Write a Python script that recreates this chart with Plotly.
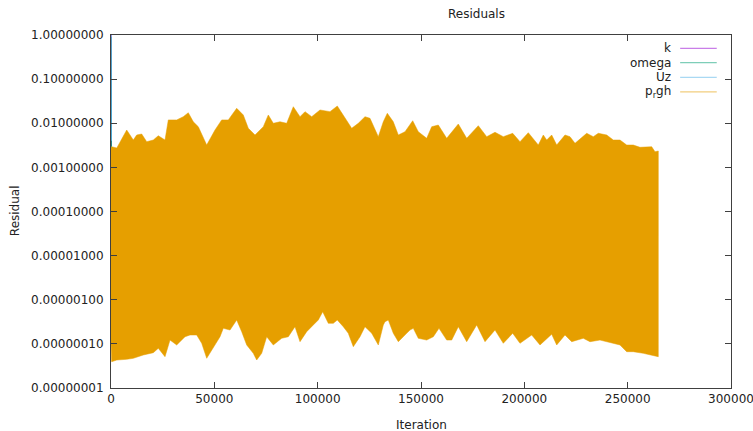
import math
import plotly.graph_objects as go

# ---- data ----
upper_iter = [0, 300, 2800, 7600, 10790, 12435, 14855, 17274, 20468, 22887, 26129, 27726, 31790,
              34984, 37403, 39823, 42242, 46306, 50323, 53565, 56758, 60823, 64016, 66435, 69677,
              73694, 76113, 78532, 81774, 85016, 88210, 91452, 93871, 97113, 101129, 105968, 109500,
              113226, 116468, 119661, 122903, 125323, 129339, 131758, 133694, 136597, 139016, 142258,
              145984, 148694, 152758, 155177, 158371, 162435, 168048, 172113, 177726, 181790, 185806,
              189823, 194371, 197903, 201919, 206758, 209177, 210823, 213242, 215661, 219677, 222097,
              224516, 230177, 233371, 235790, 239855, 243048, 246290, 249532, 252726, 255968, 259210,
              261629, 263226, 264823]
upper_res = [2.6e-3, 2.94e-3, 2.75e-3, 7.03e-3, 4.17e-3, 5.42e-3, 5.71e-3, 3.82e-3, 4.17e-3, 5.22e-3,
             4.17e-3, 1.19e-2, 1.19e-2, 1.41e-2, 1.73e-2, 1.08e-2, 8.35e-3, 3.21e-3, 7.03e-3, 1.19e-2,
             1.19e-2, 2.18e-2, 1.54e-2, 7.69e-3, 5.42e-3, 8.35e-3, 1.54e-2, 9.97e-3, 1.08e-2, 9.97e-3,
             2.37e-2, 1.41e-2, 1.83e-2, 1.41e-2, 2.00e-2, 1.83e-2, 2.46e-2, 1.29e-2, 7.69e-3, 9.97e-3,
             1.41e-2, 1.29e-2, 4.96e-3, 1.08e-2, 1.68e-2, 1.08e-2, 5.42e-3, 6.43e-3, 1.14e-2, 6.43e-3,
             4.56e-3, 8.35e-3, 9.12e-3, 4.56e-3, 9.62e-3, 4.56e-3, 8.80e-3, 4.96e-3, 6.24e-3, 4.96e-3,
             5.92e-3, 3.82e-3, 6.11e-3, 3.21e-3, 5.42e-3, 4.17e-3, 5.42e-3, 3.21e-3, 5.42e-3, 4.96e-3,
             3.51e-3, 5.92e-3, 4.96e-3, 5.92e-3, 5.42e-3, 4.17e-3, 4.17e-3, 3.21e-3, 3.21e-3, 2.85e-3,
             2.85e-3, 2.94e-3, 2.26e-3, 2.35e-3]

lower_iter = [0, 300, 2800, 7600, 10800, 15630, 20470, 22890, 26130, 28550, 31790, 35810, 38230,
              41470, 43890, 46310, 50320, 52740, 54340, 57580, 60820, 63240, 65660, 68850, 70500,
              72920, 75340, 78530, 82600, 85790, 89030, 91450, 94690, 97890, 100310, 102440, 105150,
              107570, 109500, 112400, 114820, 117240, 120480, 122900, 126150, 129340, 131760, 132580,
              134180, 136600, 139020, 143080, 144680, 146270, 148690, 152760, 155950, 158710, 162440,
              164860, 168050, 172110, 176950, 180970, 185810, 189820, 194370, 197900, 203560, 207580,
              213240, 215660, 219680, 222920, 228530, 231770, 236610, 243050, 246290, 249530, 252730,
              257570, 261630, 264820]
lower_res = [1.0e-7, 3.94e-8, 4.31e-8, 4.47e-8, 4.71e-8, 5.60e-8, 6.31e-8, 7.94e-8, 5.12e-8, 1.22e-7,
             9.44e-8, 1.45e-7, 1.59e-7, 1.59e-7, 1.03e-7, 4.71e-8, 9.44e-8, 1.45e-7, 2.25e-7, 2.06e-7,
             3.48e-7, 1.89e-7, 9.44e-8, 6.11e-8, 4.31e-8, 6.11e-8, 1.45e-7, 9.44e-8, 1.34e-7, 1.45e-7,
             2.45e-7, 1.12e-7, 1.89e-7, 2.68e-7, 3.48e-7, 5.36e-7, 2.92e-7, 2.92e-7, 3.48e-7, 2.45e-7,
             1.74e-7, 8.63e-8, 1.45e-7, 2.45e-7, 1.74e-7, 9.44e-8, 2.68e-7, 3.18e-7, 3.48e-7, 1.74e-7,
             1.12e-7, 1.74e-7, 2.06e-7, 2.25e-7, 1.34e-7, 1.22e-7, 1.45e-7, 2.25e-7, 1.22e-7, 1.22e-7,
             2.45e-7, 1.12e-7, 2.68e-7, 1.12e-7, 2.06e-7, 1.03e-7, 1.74e-7, 1.03e-7, 1.59e-7, 9.44e-8,
             1.66e-7, 9.44e-8, 1.59e-7, 1.12e-7, 1.34e-7, 1.12e-7, 1.22e-7, 1.03e-7, 9.44e-8, 6.65e-8,
             6.65e-8, 6.11e-8, 5.60e-8, 5.12e-8]

# start-up residuals of the other fields (visible only at iteration ~0)
k_iter = [0, 60, 150]
k_res = [1.0, 0.02, 0.003]
omega_iter = [0, 60, 150]
omega_res = [0.9, 0.01, 0.002]
uz_iter = [0, 60, 150]
uz_res = [1.0, 0.05, 0.004]

series_names = ["k", "omega", "Uz", "p<sub>r</sub>gh"]
series_colors = ["#9400D3", "#009E73", "#56B4E9", "#E69F00"]

x_tickvals = [0, 50000, 100000, 150000, 200000, 250000, 300000]
y_decades = [1e-8, 1e-7, 1e-6, 1e-5, 1e-4, 1e-3, 1e-2, 1e-1]
minor_digits = [2, 3, 4, 5, 6, 7, 8, 9]

FONT = "DejaVu Sans"
AXC = "#404040"

fig = go.Figure()
for it, rs, c in [(k_iter, k_res, series_colors[0]), (omega_iter, omega_res, series_colors[1]),
                  (uz_iter, uz_res, series_colors[2])]:
    fig.add_trace(go.Scatter(x=it, y=rs, mode="lines", line=dict(color=c, width=1),
                             showlegend=False, hoverinfo="skip"))

fig.add_trace(go.Scatter(
    x=upper_iter + lower_iter[::-1],
    y=upper_res + lower_res[::-1],
    mode="lines", fill="toself", fillcolor=series_colors[3],
    line=dict(color=series_colors[3], width=0.5),
    showlegend=False, hoverinfo="skip"))

# legend drawn gnuplot-style: text then sample line
leg_y = [0.962, 0.922, 0.880, 0.839]
annotations = []
shapes = []
for name, col, yy in zip(series_names, series_colors, leg_y):
    annotations.append(dict(x=0.906, y=yy, xref="paper", yref="paper", text=name, showarrow=False,
                            xanchor="right", yanchor="middle", font=dict(family=FONT, size=12, color="#222")))
    shapes.append(dict(type="line", xref="paper", yref="paper", x0=0.918, x1=0.977, y0=yy, y1=yy,
                       line=dict(color=col, width=1.2), opacity=0.5))

# minor log ticks (inside, on both y sides) as axis decoration
mt = 4 / 620.0
for d in y_decades:
    for m in minor_digits:
        ly = math.log10(d * m)
        for x0, x1 in ((0, mt), (1 - mt, 1)):
            shapes.append(dict(type="line", xref="paper", yref="y", x0=x0, x1=x1, y0=ly, y1=ly,
                               line=dict(color=AXC, width=1), layer="above"))

annotations.append(dict(x=0.589, y=1.0595, xref="paper", yref="paper", text="Residuals", showarrow=False,
                        xanchor="center", yanchor="middle", font=dict(family=FONT, size=12, color="#222")))
annotations.append(dict(x=0.5016, y=-0.1048, xref="paper", yref="paper", text="Iteration", showarrow=False,
                        xanchor="center", yanchor="middle", font=dict(family=FONT, size=12, color="#222")))
annotations.append(dict(x=-0.1548, y=0.501, xref="paper", yref="paper", text="Residual", showarrow=False,
                        textangle=-90, xanchor="center", yanchor="middle",
                        font=dict(family=FONT, size=12, color="#222")))

fig.update_layout(
    width=753, height=431,
    margin=dict(l=111, r=22, t=35, b=43, autoexpand=False),
    paper_bgcolor="white", plot_bgcolor="white",
    font=dict(family=FONT, size=12, color="#222"),
    annotations=annotations, shapes=shapes,
)
fig.update_xaxes(range=[0, 300000.5], tickvals=x_tickvals, ticktext=[str(v) for v in x_tickvals],
                 ticks="inside", ticklen=6, tickcolor=AXC, showline=True, linecolor=AXC, linewidth=1,
                 mirror="allticks", showgrid=False, zeroline=False, ticklabeloverflow="allow",
                 automargin=False)
fig.update_yaxes(type="log", range=[-8, 0], tickmode="linear", tick0=0, dtick=1, tickformat=".8f",
                 ticks="inside", ticklen=6, tickcolor=AXC, showline=True, linecolor=AXC, linewidth=1,
                 mirror="allticks", showgrid=False, zeroline=False, ticklabelstandoff=4, automargin=False)

fig.write_html("out.html")
